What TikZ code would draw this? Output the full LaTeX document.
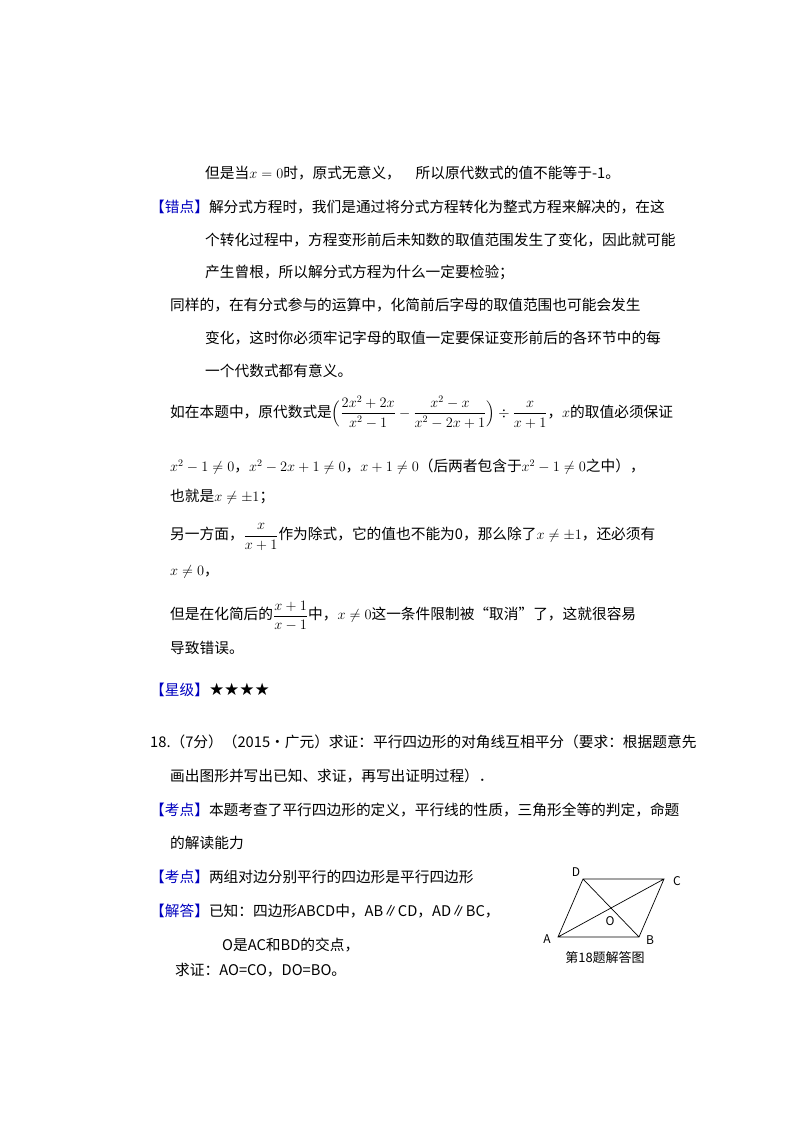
\documentclass[tikz,border=0pt]{standalone}
\usepackage{amsmath}
\usepackage{fontspec}
\setmainfont{Noto Sans CJK SC}
\newfontfamily\symf{DejaVu Sans}
\begin{document}
\begin{tikzpicture}[x=1pt,y=-1pt,
  t/.style={anchor=west,inner sep=0pt,font=\fontsize{14.7}{18}\selectfont}]
\fill[white] (0,0) rectangle (800,1132);
\useasboundingbox (0,0) rectangle (800,1132);
\node[t] (l1) at (205,173) {但是当$x=0$时，原式无意义，\quad 所以原代数式的值不能等于-1。};
\node[t] (l2) at (150,207) {\textcolor{blue!75!black}{【错点】}解分式方程时，我们是通过将分式方程转化为整式方程来解决的，在这};
\node[t] (l3) at (205,240) {个转化过程中，方程变形前后未知数的取值范围发生了变化，因此就可能};
\node[t] (l4) at (205,272) {产生曾根，所以解分式方程为什么一定要检验；};
\node[t] (l5) at (170,305) {同样的，在有分式参与的运算中，化简前后字母的取值范围也可能会发生};
\node[t] (l6) at (205,338) {变化，这时你必须牢记字母的取值一定要保证变形前后的各环节中的每};
\node[t] (l7) at (205,371) {一个代数式都有意义。};
\node[t] (l8) at (170,412) {如在本题中，原代数式是$\Bigl(\dfrac{2x^2+2x}{x^2-1}-\dfrac{x^2-x}{x^2-2x+1}\Bigr)\div\dfrac{x}{x+1}$，$x$的取值必须保证};
\node[t] (l9) at (170,467) {$x^2-1\neq0$，$x^2-2x+1\neq0$，$x+1\neq0$（后两者包含于$x^2-1\neq0$之中），};
\node[t] (l10) at (170,497) {也就是$x\neq\pm1$；};
\node[t] (l11) at (170,537) {另一方面，$\dfrac{x}{x+1}$作为除式，它的值也不能为0，那么除了$x\neq\pm1$，还必须有};
\node[t] (l12) at (170,572) {$x\neq0$，};
\node[t] (l13) at (170,616) {但是在化简后的$\dfrac{x+1}{x-1}$中，$x\neq0$这一条件限制被“取消”了，这就很容易};
\node[t] (l14) at (170,648) {导致错误。};
\node[t] (l15) at (150,690) {\textcolor{blue!75!black}{【星级】}{\symf\fontsize{17}{18}\selectfont ★★★★}};
\node[t] (l16) at (150,742) {18.（7分）（2015•广元）求证：平行四边形的对角线互相平分（要求：根据题意先};
\node[t] (l17) at (170,776) {画出图形并写出已知、求证，再写出证明过程）．};
\node[t] (l18) at (150,810) {\textcolor{blue!75!black}{【考点】}本题考查了平行四边形的定义，平行线的性质，三角形全等的判定，命题};
\node[t] (l19) at (170,843) {的解读能力};
\node[t] (l20) at (150,877) {\textcolor{blue!75!black}{【考点】}两组对边分别平行的四边形是平行四边形};
\node[t] (l21) at (150,911) {\textcolor{blue!75!black}{【解答】}已知：四边形ABCD中，AB∥CD，AD∥BC，};
\node[t] (l22) at (222,945) {O是AC和BD的交点，};
\node[t] (l23) at (175,970) {求证：AO=CO，DO=BO。};
% figure
\coordinate (A) at (558,937);
\coordinate (B) at (639,937);
\coordinate (C) at (664,879);
\coordinate (D) at (583,879);
\draw[line width=0.7pt] (A) -- (B) -- (C) -- (D) -- cycle (A) -- (C) (D) -- (B);
\node[font=\fontsize{12}{12}\selectfont\rmfamily] (la) at (547,939) {A};
\node[font=\fontsize{12}{12}\selectfont\rmfamily] (lb) at (650,940) {B};
\node[font=\fontsize{12}{12}\selectfont\rmfamily] (lc) at (677,881) {C};
\node[font=\fontsize{12}{12}\selectfont\rmfamily] (ld) at (576,872) {D};
\node[font=\fontsize{12}{12}\selectfont\rmfamily] (lo) at (610,921) {O};
\node[font=\fontsize{13}{13}\selectfont] (cap) at (605,958) {第18题解答图};
\end{tikzpicture}
\end{document}
